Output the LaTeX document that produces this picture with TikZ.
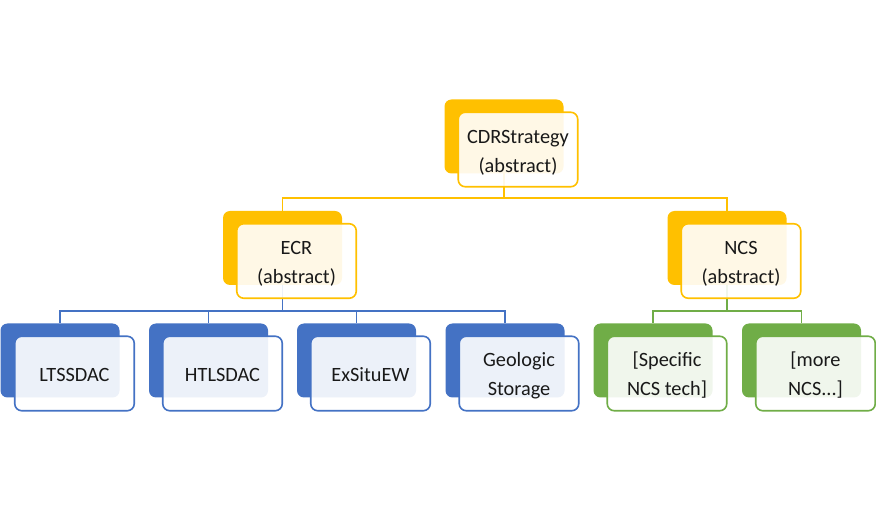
\documentclass[tikz,border=0pt]{standalone}
\usepackage{fontspec}
\setmainfont{Carlito}
\definecolor{ylw}{HTML}{FFC000}
\definecolor{blu}{HTML}{4472C4}
\definecolor{grn}{HTML}{70AD47}
\begin{document}
\begin{tikzpicture}[x=1pt,y=-1pt,
  backbox/.style={fill=#1,rounded corners=7pt,minimum width=119pt,minimum height=74pt,inner sep=0pt,outer sep=0pt},
  frontbox/.style={draw=#1,line width=1.6pt,fill=white,fill opacity=0.9,rounded corners=7pt,minimum width=119.5pt,minimum height=74.5pt,inner sep=0pt,outer sep=0pt},
  conn/.style={draw=#1,line width=1.6pt},
  lbl/.style={align=center,font=\fontsize{20.3}{29}\selectfont,text=black!90,inner sep=0pt}]
\useasboundingbox (0,0) rectangle (876,510);
% back boxes
\node[backbox=ylw] (cdrb) at (504,136.5) {};
\node[backbox=ylw] (ecrb) at (282.5,248) {};
\node[backbox=ylw] (ncsb) at (727,248) {};
\node[backbox=blu] (ltsb) at (60,360.5) {};
\node[backbox=blu] (htlb) at (208.5,360.5) {};
\node[backbox=blu] (exsb) at (356.5,360.5) {};
\node[backbox=blu] (geob) at (505,360.5) {};
\node[backbox=grn] (spcb) at (653,360.5) {};
\node[backbox=grn] (morb) at (801.5,360.5) {};
% connectors
\coordinate (j1) at (504,198);
\coordinate (j2) at (282.5,311);
\coordinate (j3) at (727,311);
\draw[conn=ylw] (cdrb.south) -- (j1) -| (ecrb.north);
\draw[conn=ylw] (j1) -| (ncsb.north);
\draw[conn=blu] (ecrb.south) -- (j2) -| (ltsb.north);
\draw[conn=blu] (j2) -| (htlb.north);
\draw[conn=blu] (j2) -| (exsb.north);
\draw[conn=blu] (j2) -| (geob.north);
\draw[conn=grn] (ncsb.south) -- (j3) -| (spcb.north);
\draw[conn=grn] (j3) -| (morb.north);
% front boxes
\node[frontbox=ylw] (cdr) at (518,149.5) {};
\node[frontbox=ylw] (ecr) at (296.5,261) {};
\node[frontbox=ylw] (ncs) at (741,261) {};
\node[frontbox=blu] (lts) at (74.5,373.5) {};
\node[frontbox=blu] (htl) at (222.5,373.5) {};
\node[frontbox=blu] (exs) at (370.5,373.5) {};
\node[frontbox=blu] (geo) at (519,373.5) {};
\node[frontbox=grn] (spc) at (667,373.5) {};
\node[frontbox=grn] (mor) at (815.5,373.5) {};
% labels
\node[lbl] (cdrt) at ([yshift=-3pt]cdr.center) {CDRStrategy\\(abstract)};
\node[lbl] (ecrt) at ([yshift=-3pt]ecr.center) {ECR\\(abstract)};
\node[lbl] (ncst) at ([yshift=-3pt]ncs.center) {NCS\\(abstract)};
\node[lbl] (ltst) at ([yshift=-1.5pt]lts.center) {LTSSDAC};
\node[lbl] (htlt) at ([yshift=-1.5pt]htl.center) {HTLSDAC};
\node[lbl] (exst) at ([yshift=-1.5pt]exs.center) {ExSituEW};
\node[lbl] (geot) at ([yshift=-2pt]geo.center) {Geologic\\Storage};
\node[lbl] (spct) at ([yshift=-2pt]spc.center) {[Specific\\NCS tech]};
\node[lbl] (mort) at ([yshift=-2pt]mor.center) {[more\\NCS...]};
\end{tikzpicture}
\end{document}
